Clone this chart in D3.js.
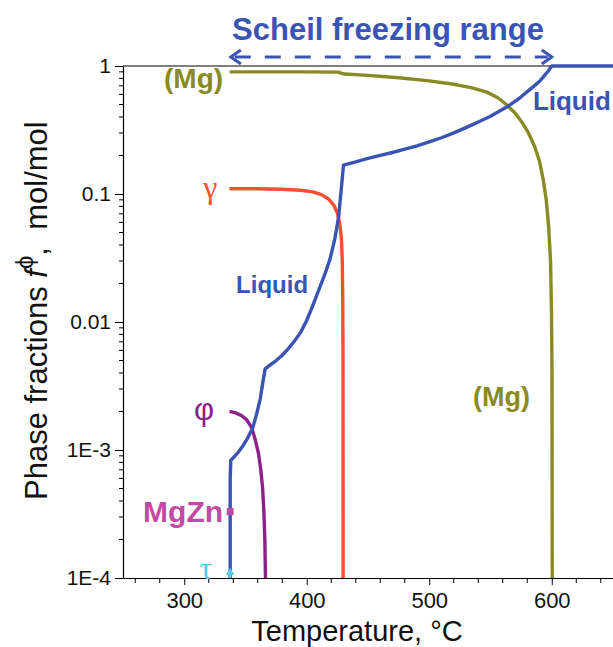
<!DOCTYPE html>
<html>
<head>
<meta charset="utf-8">
<script src="https://cdn.jsdelivr.net/npm/d3@7"></script>
<style>
  body { margin: 0; background: #fff; }
  svg { display: block; font-family: "Liberation Sans", Arial, sans-serif; }
</style>
</head>
<body>
<div id="chart"></div>
<script>
// phase fraction curves, [temperature degC, fraction mol/mol]
const liquid = [
  [650, 1], [600, 1], [597, 0.91], [594, 0.84], [590, 0.76], [585, 0.69], [580, 0.63],
  [575, 0.575], [570, 0.53], [565, 0.49], [560, 0.46], [550, 0.405], [540, 0.365],
  [530, 0.33], [520, 0.3], [510, 0.275], [500, 0.255], [490, 0.238], [480, 0.224],
  [470, 0.211], [460, 0.2], [450, 0.19], [440, 0.178], [430, 0.168], [428, 0.105],
  [426, 0.066], [423, 0.045], [419, 0.031], [415, 0.024], [410, 0.018], [405, 0.0135],
  [400, 0.0103], [395, 0.0083], [390, 0.0071], [385, 0.0062], [380, 0.0055],
  [375, 0.005], [370, 0.0046], [366, 0.0043], [364, 0.0033], [362, 0.0025],
  [359, 0.0019], [356, 0.0015], [352, 0.00125], [348, 0.00108], [344, 0.00096],
  [340, 0.00087], [338, 0.00083], [337.5, 0.0006], [337.5, 0.0001]
];
const mgPhase = [
  [337, 0.9], [400, 0.9], [426, 0.895], [428, 0.88], [431, 0.865], [450, 0.845],
  [475, 0.81], [500, 0.765], [520, 0.72], [535, 0.675], [547, 0.625], [556, 0.565],
  [563, 0.5], [570, 0.43], [576, 0.36], [581, 0.3], [586, 0.235], [590, 0.18],
  [593, 0.13], [595.5, 0.09], [597.5, 0.055], [599, 0.03], [599.8, 0.012],
  [600.2, 0.004], [600.4, 0.0001]
];
const gamma = [
  [337, 0.11], [360, 0.11], [380, 0.109], [395, 0.107], [405, 0.104], [412, 0.099],
  [418, 0.091], [422, 0.082], [425, 0.071], [427, 0.058], [428.3, 0.045], [429, 0.03],
  [429.4, 0.015], [429.6, 0.005], [429.7, 0.0001]
];
const phi = [
  [337, 0.002], [342, 0.00195], [347, 0.00185], [351, 0.00172], [355, 0.0015],
  [358, 0.0012], [360.5, 0.00095], [362.5, 0.0007], [364, 0.0005], [365, 0.00033],
  [365.8, 0.0002], [366.3, 0.0001]
];
const mgZnPoint = [337.5, 0.00033];
const tauPoint = [337.5, 0.0001];

const xTicks = [300, 400, 500, 600];
const yTicks = [1, 0.1, 0.01, 0.001, 0.0001];
const yTickLabels = ["1", "0.1", "0.01", "1E-3", "1E-4"];
const freezingRange = [338, 600];

const colors = {
  liquid: "#3a54b3",
  mg: "#8a8a24",
  gamma: "#f0512f",
  phi: "#8c2189",
  mgzn: "#c24aa6",
  tau: "#5ac8e2"
};

const width = 613, height = 647;
const margin = { top: 66, right: 0, bottom: 69, left: 123 };
const innerW = width - margin.left - margin.right;
const innerH = height - margin.top - margin.bottom;

const svg = d3.select("#chart").append("svg")
  .attr("width", width)
  .attr("height", height);

const g = svg.append("g")
  .attr("transform", "translate(" + margin.left + "," + margin.top + ")");

const x = d3.scaleLinear().domain([250, 650]).range([0, innerW]);
const y = d3.scaleLog().domain([0.0001, 1]).range([innerH, 0]);

// minor ticks
const xMinor = d3.range(260, 650, 20).filter(d => xTicks.indexOf(d) < 0);
const yMinor = [];
[0.0001, 0.001, 0.01, 0.1].forEach(dec => {
  for (let k = 2; k <= 9; k++) yMinor.push(dec * k);
});

// x axis
const xAxis = g.append("g")
  .attr("transform", "translate(0," + innerH + ")")
  .call(d3.axisBottom(x).tickValues(xTicks).tickSize(7).tickSizeOuter(0).tickPadding(7));
xAxis.selectAll("text").attr("font-size", 22).attr("fill", "#111");
xAxis.append("g").selectAll("line").data(xMinor).enter().append("line")
  .attr("x1", d => x(d)).attr("x2", d => x(d))
  .attr("y1", 0).attr("y2", 5)
  .attr("stroke", "#000");

// y axis
const yAxis = g.append("g")
  .call(d3.axisLeft(y).tickValues(yTicks).tickFormat((d, i) => yTickLabels[i])
    .tickSize(8).tickSizeOuter(0).tickPadding(4));
yAxis.selectAll("text").attr("font-size", 21).attr("fill", "#111");
yAxis.append("g").selectAll("line").data(yMinor).enter().append("line")
  .attr("x1", -4).attr("x2", 0)
  .attr("y1", d => y(d)).attr("y2", d => y(d))
  .attr("stroke", "#000");
g.selectAll(".domain").attr("stroke", "#000").attr("stroke-width", 1.2);

// top frame line
g.append("line")
  .attr("x1", 0).attr("x2", innerW)
  .attr("y1", 0).attr("y2", 0)
  .attr("stroke", "#000").attr("stroke-width", 1.2);

// axis titles
svg.append("text")
  .attr("x", 357).attr("y", 641)
  .attr("text-anchor", "middle")
  .attr("font-size", 29)
  .attr("fill", "#111")
  .text("Temperature, °C");

const yTitle = svg.append("text")
  .attr("transform", "translate(47,500) rotate(-90)")
  .attr("text-anchor", "start")
  .attr("font-size", 31)
  .attr("fill", "#111");
yTitle.append("tspan").text("Phase fractions ");
yTitle.append("tspan").attr("font-style", "italic").text("f");
yTitle.append("tspan").attr("dy", -14).attr("font-size", 24).text("\u03d5");
yTitle.append("tspan").attr("dy", 14).text(",\u00a0\u00a0mol/mol");

// curves
const line = d3.line()
  .x(d => x(d[0]))
  .y(d => y(d[1]));

const curves = [
  { data: gamma, color: colors.gamma },
  { data: phi, color: colors.phi },
  { data: mgPhase, color: colors.mg },
  { data: liquid, color: colors.liquid }
];
g.selectAll(".curve").data(curves).enter().append("path")
  .attr("class", "curve")
  .attr("d", d => line(d.data))
  .attr("fill", "none")
  .attr("stroke", d => d.color)
  .attr("stroke-width", 3.4)
  .attr("stroke-linejoin", "round");

// MgZn point
g.append("rect")
  .attr("x", x(mgZnPoint[0]) - 3.5).attr("y", y(mgZnPoint[1]) - 3.5)
  .attr("width", 7).attr("height", 7)
  .attr("fill", colors.mgzn);

// tau marker (small upward arrow)
const tx = x(tauPoint[0]), ty = y(tauPoint[1]);
g.append("path")
  .attr("d", "M" + (tx - 4.5) + "," + (ty - 3) + "L" + tx + "," + (ty - 10) + "L" + (tx + 4.5) + "," + (ty - 3) + "Z")
  .attr("fill", colors.tau);
g.append("line")
  .attr("x1", tx).attr("x2", tx).attr("y1", ty - 4).attr("y2", ty)
  .attr("stroke", colors.tau).attr("stroke-width", 2.5);

// phase labels
const labels = [
  { text: "(Mg)", t: 331.7, f: 0.673, anchor: "end", color: colors.mg, size: 28, weight: "bold", family: null },
  { text: "Liquid", t: 584.6, f: 0.45, anchor: "start", color: colors.liquid, size: 26, weight: "bold", family: null },
  { text: "\u03b3", t: 327, f: 0.093, anchor: "end", color: colors.gamma, size: 32, weight: "normal", family: "Liberation Serif" },
  { text: "Liquid", t: 342.3, f: 0.0169, anchor: "start", color: colors.liquid, size: 24, weight: "bold", family: null },
  { text: "(Mg)", t: 535.8, f: 0.0022, anchor: "start", color: colors.mg, size: 27, weight: "bold", family: null },
  { text: "\u03c6", t: 324.4, f: 0.00171, anchor: "end", color: colors.phi, size: 31, weight: "normal", family: null },
  { text: "MgZn", t: 331.7, f: 0.000272, anchor: "end", color: colors.mgzn, size: 30, weight: "bold", family: null },
  { text: "\u03c4", t: 323, f: 0.0000975, anchor: "end", color: colors.tau, size: 32, weight: "normal", family: "Liberation Serif" }
];
g.selectAll(".plabel").data(labels).enter().append("text")
  .attr("class", "plabel")
  .attr("x", d => x(d.t))
  .attr("y", d => y(d.f))
  .attr("text-anchor", d => d.anchor)
  .attr("font-size", d => d.size)
  .attr("font-weight", d => d.weight)
  .attr("font-family", d => d.family)
  .attr("fill", d => d.color)
  .text(d => d.text);

// Scheil freezing range annotation
const arrowY = -9;
const ax1 = x(freezingRange[0]), ax2 = x(freezingRange[1]);
g.append("line")
  .attr("x1", ax1 + 4).attr("x2", ax2 - 4)
  .attr("y1", arrowY).attr("y2", arrowY)
  .attr("stroke", colors.liquid).attr("stroke-width", 3)
  .attr("stroke-dasharray", "16,14");
g.append("path")
  .attr("d", "M" + (ax1 + 10) + "," + (arrowY - 7) + "L" + ax1 + "," + arrowY + "L" + (ax1 + 10) + "," + (arrowY + 7))
  .attr("fill", "none").attr("stroke", colors.liquid).attr("stroke-width", 3);
g.append("path")
  .attr("d", "M" + (ax2 - 10) + "," + (arrowY - 7) + "L" + ax2 + "," + arrowY + "L" + (ax2 - 10) + "," + (arrowY + 7))
  .attr("fill", "none").attr("stroke", colors.liquid).attr("stroke-width", 3);

svg.append("text")
  .attr("x", 388).attr("y", 40)
  .attr("text-anchor", "middle")
  .attr("font-size", 31)
  .attr("font-weight", "bold")
  .attr("fill", colors.liquid)
  .text("Scheil freezing range");
</script>
</body>
</html>
